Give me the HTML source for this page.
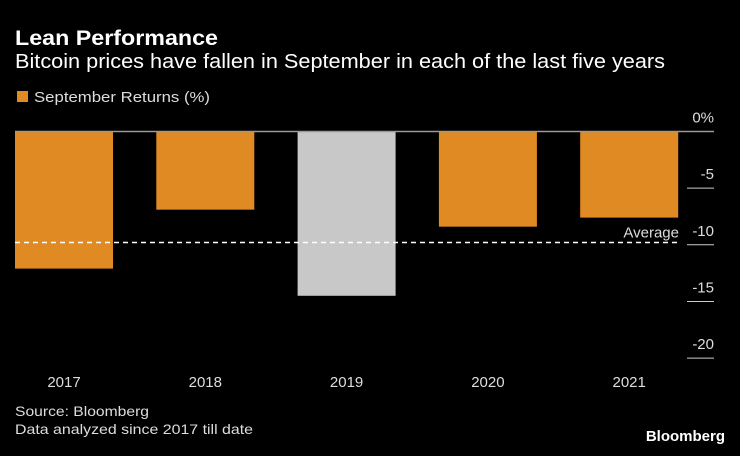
<!DOCTYPE html>
<html><head><meta charset="utf-8"><style>
body{margin:0;background:#000;width:740px;height:451px;overflow:hidden;font-family:"Liberation Sans",sans-serif;color:#fff}
</style></head><body>
<svg width="740" height="451">
<text x="15" y="45" font-size="21" font-weight="bold" fill="#fff" textLength="203" lengthAdjust="spacingAndGlyphs">Lean Performance</text>
<text x="15" y="68" font-size="20" fill="#fff" textLength="650" lengthAdjust="spacingAndGlyphs">Bitcoin prices have fallen in September in each of the last five years</text>
<rect x="17" y="91" width="11" height="11" fill="#e08a24"/>
<text x="34" y="102" font-size="15" fill="#ddd" textLength="176" lengthAdjust="spacingAndGlyphs">September Returns (%)</text>
<g id="plot"></g>
<text x="15" y="416" font-size="14" fill="#ddd" textLength="134" lengthAdjust="spacingAndGlyphs">Source: Bloomberg</text>
<text x="15" y="434" font-size="14" fill="#ddd" textLength="238" lengthAdjust="spacingAndGlyphs">Data analyzed since 2017 till date</text>
<text x="725" y="441" font-size="15" font-weight="bold" fill="#fff" text-anchor="end">Bloomberg</text>
</svg>
<script>
const categories=["2017","2018","2019","2020","2021"];
const values=[-12.1,-6.9,-14.5,-8.4,-7.6];
const highlight=[false,false,true,false,false];
const ticks=[0,-5,-10,-15,-20];
const tickLabels=["0%","-5","-10","-15","-20"];
const average=-9.8;
const NS="http://www.w3.org/2000/svg";
const g=document.getElementById('plot');
function y(v){return 131.5+(-v)*11.33;}
function xc(i){return 64+i*141.3;}
function mk(t,a){const e=document.createElementNS(NS,t);for(const k in a)e.setAttribute(k,a[k]);g.appendChild(e);return e;}
values.forEach((v,i)=>{
 const r=mk('rect',{x:xc(i)-49,y:y(0),width:98,height:y(v)-y(0),fill:highlight[i]?'#c8c8c8':'#e08a24'});
 
 
 const t=mk('text',{x:xc(i),y:387,'font-size':15,fill:'#ddd','text-anchor':'middle'});
 t.textContent=categories[i];
 
 
});
const z=mk('line',{x1:15,x2:714,y1:y(0),y2:y(0),stroke:'#999','stroke-width':1.5});


ticks.forEach((v,i)=>{
 if(v!==0){const l=mk('line',{x1:687,x2:714,y1:y(v),y2:y(v),stroke:'#ccc','stroke-width':1});
 
 }
 const t=mk('text',{x:714,y:y(v)-9,'font-size':15,fill:'#ddd','text-anchor':'end'});
 t.textContent=tickLabels[i];
 
 
});
const a=mk('line',{x1:15,x2:680,y1:y(average),y2:y(average),stroke:'#fff','stroke-width':1.5,'stroke-dasharray':'5,4'});


const at=mk('text',{x:679,y:y(average)-5,'font-size':15,fill:'#ddd','text-anchor':'end'});
at.textContent='Average';


</script>
</body></html>
